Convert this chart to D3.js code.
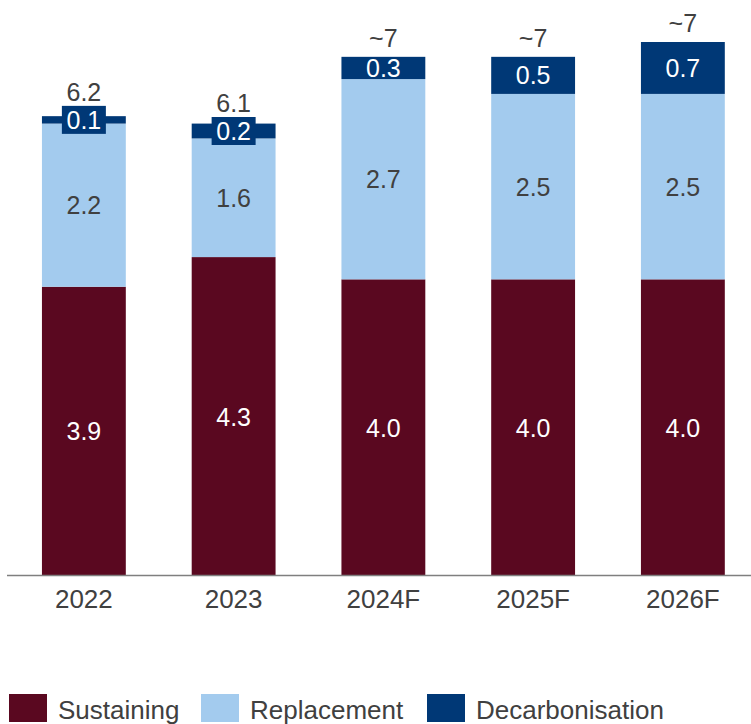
<!DOCTYPE html>
<html>
<head>
<meta charset="utf-8">
<script src="https://cdn.jsdelivr.net/npm/d3@7"></script>
<style>
  html, body { margin: 0; padding: 0; background: #ffffff; }
  svg { display: block; font-family: "Liberation Sans", Arial, sans-serif; }
</style>
</head>
<body>
<svg id="chart" width="751" height="724"></svg>
<script>
// Capital expenditure by category (US$ bn)
const years = ["2022", "2023", "2024F", "2025F", "2026F"];
const sustaining = [3.9, 4.3, 4.0, 4.0, 4.0];
const replacement = [2.2, 1.6, 2.7, 2.5, 2.5];
const decarbonisation = [0.1, 0.2, 0.3, 0.5, 0.7];
const totalLabels = ["6.2", "6.1", "~7", "~7", "~7"];
const seriesNames = ["Sustaining", "Replacement", "Decarbonisation"];

const colors = {
  Sustaining: "#5a0820",
  Replacement: "#a3cbee",
  Decarbonisation: "#003876"
};
const textDark = "#404040";

const rows = years.map((y, i) => ({
  year: y,
  Sustaining: sustaining[i],
  Replacement: replacement[i],
  Decarbonisation: decarbonisation[i],
  total: totalLabels[i]
}));

const svg = d3.select("#chart");

const x = d3.scaleBand()
  .domain(years)
  .range([9, 757.75])
  .paddingInner(0.44)
  .paddingOuter(0.22);

const y = d3.scaleLinear()
  .domain([0, 7.2])
  .range([576, 42]);

const stacked = d3.stack().keys(seriesNames)(rows);

// stacked bar segments
const layers = svg.append("g")
  .selectAll("g")
  .data(stacked)
  .join("g")
  .attr("fill", d => colors[d.key]);

layers.selectAll("rect")
  .data(d => d.map(p => ({ key: d.key, p })))
  .join("rect")
  .attr("x", d => x(d.p.data.year))
  .attr("y", d => y(d.p[1]))
  .attr("width", x.bandwidth())
  .attr("height", d => y(d.p[0]) - y(d.p[1]));

// segment value labels
const labelG = svg.append("g")
  .attr("font-size", 25)
  .attr("text-anchor", "middle");

// where each total label sits (bottom edge of its text)
const totalBase = {};
stacked.forEach(layer => {
  layer.forEach(p => {
    const yr = p.data.year;
    const val = p.data[layer.key];
    const cx = x(yr) + x.bandwidth() / 2;
    const top = y(p[1]);
    const bottom = y(p[0]);
    const cy = (top + bottom) / 2;
    const fill = layer.key === "Replacement" ? textDark : "#ffffff";
    if (layer.key === "Decarbonisation") {
      totalBase[yr] = top - 10;
      if (bottom - top < 20) {
        // label tag for thin segments
        labelG.append("rect")
          .attr("x", cx - 22)
          .attr("y", cy - 14)
          .attr("width", 44)
          .attr("height", 28)
          .attr("fill", colors.Decarbonisation);
        totalBase[yr] = cy - 14 - 5;
      }
    }
    labelG.append("text")
      .attr("x", cx)
      .attr("y", cy)
      .attr("dy", "0.36em")
      .attr("fill", fill)
      .text(d3.format(".1f")(val));
  });
});

// totals above bars
svg.append("g")
  .attr("font-size", 25)
  .attr("text-anchor", "middle")
  .attr("fill", textDark)
  .selectAll("text")
  .data(rows)
  .join("text")
  .attr("x", d => x(d.year) + x.bandwidth() / 2)
  .attr("y", d => totalBase[d.year])
  .text(d => d.total);

// category axis
const axis = svg.append("g")
  .attr("transform", "translate(0,576)")
  .call(d3.axisBottom(x).tickSize(0).tickPadding(14));
axis.select(".domain").remove();
axis.selectAll("text")
  .attr("font-size", 26)
  .attr("font-family", "Liberation Sans, Arial, sans-serif")
  .attr("fill", textDark)
  .attr("dy", "0.71em");

svg.append("line")
  .attr("x1", 7).attr("x2", 751)
  .attr("y1", 575.5).attr("y2", 575.5)
  .attr("stroke", "#7f7f7f")
  .attr("stroke-width", 1.5);

// legend
const legendX = [9, 201, 427];
const legend = svg.append("g")
  .selectAll("g")
  .data(seriesNames)
  .join("g")
  .attr("transform", (d, i) => `translate(${legendX[i]},694)`);

legend.append("rect")
  .attr("width", 38)
  .attr("height", 28)
  .attr("fill", d => colors[d]);

legend.append("text")
  .attr("x", 49)
  .attr("y", 25)
  .attr("font-size", 26)
  .attr("fill", textDark)
  .text(d => d);
</script>
</body>
</html>
